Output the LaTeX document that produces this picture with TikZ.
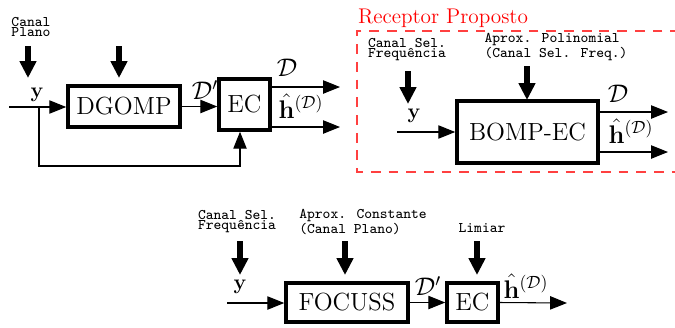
\documentclass[tikz,border=0pt]{standalone}
\usetikzlibrary{arrows.meta,calc}
\begin{document}
\begin{tikzpicture}[x=0.565pt,y=-0.565pt,
  blk/.style={draw,line width=2pt,inner sep=0pt,font=\fontsize{14}{17}\selectfont},
  sig/.style={line width=0.6pt,-{Triangle[length=9.5pt,width=7.5pt]}},
  param/.style={line width=3pt,-{Triangle[length=9.5pt,width=9pt]}},
  note/.style={font=\ttfamily\fontsize{8.3}{5.6}\selectfont,align=left,inner sep=0pt},
  lbl/.style={font=\large,inner sep=0pt},
  lblL/.style={font=\Large,inner sep=0pt}]
\useasboundingbox (0,0) rectangle (675,327);
% top left: DGOMP + EC
\node[note] (cp) at (31,27) {Canal\\Plano};
\node[blk,minimum width=63.3pt,minimum height=23.2pt] (dgomp) at (124,106.5) {DGOMP};
\node[blk,minimum width=28.8pt,minimum height=28.8pt] (ecA) at (244.5,104.5) {EC};
\coordinate (inA) at (9,107);
\coordinate (brA) at (39,107);
\coordinate (fbA) at (240,166);
\coordinate (pA1) at (28,46); \coordinate (qA1) at (28,78);
\coordinate (pA2) at (119,46); \coordinate (qA2) at (119,78);
\coordinate (oA1) at (340,87); \coordinate (oA2) at (340,127);
\draw[param] (pA1)--(qA1);
\draw[param] (pA2)--(qA2);
\draw[sig] (inA)--(inA-|dgomp.west);
\draw[sig] (dgomp.east)--(dgomp.east-|ecA.west);
\draw[sig] (brA) |- (fbA) -- (fbA|-ecA.south);
\draw[sig] (oA1-|ecA.east)--(oA1);
\draw[sig] (oA2-|ecA.east)--(oA2);
\node[lbl] (yA) at (37,95) {$\mathbf{y}$};
\node[lblL] (dpA) at (205,90) {$\mathcal{D}'$};
\node[lblL] (dA) at (287,68) {$\mathcal{D}$};
\node[lblL] (hA) at (301,106) {$\hat{\mathbf{h}}^{(\mathcal{D})}$};
% top right: proposed receiver
\node[font=\large,text=red,inner sep=0pt] (rp) at (443,18) {Receptor Proposto};
\draw[red!75,line width=0.8pt,dash pattern=on 5.5pt off 4.5pt] (680,31) -| (357,172) -- (680,172);
\node[blk,minimum width=79.7pt,minimum height=35pt] (bomp) at (527.5,132) {BOMP-EC};
\node[note] (csB) at (407,50) {Canal Sel.\\Frequência};
\node[note] (apB) at (556,47) {Aprox. Polinomial\\(Canal Sel. Freq.)};
\coordinate (inB) at (397,132);
\coordinate (pB1) at (408,71); \coordinate (qB1) at (408,104);
\coordinate (pB2) at (527,66); \coordinate (qB2) at (527,100);
\coordinate (oB1) at (668,112); \coordinate (oB2) at (668,152);
\draw[param] (pB1)--(qB1);
\draw[param] (pB2)--(qB2);
\draw[sig] (inB)--(inB-|bomp.west);
\draw[sig] (oB1-|bomp.east)--(oB1);
\draw[sig] (oB2-|bomp.east)--(oB2);
\node[lbl] (yB) at (414,116) {$\mathbf{y}$};
\node[lblL] (dB) at (618,94) {$\mathcal{D}$};
\node[lblL] (hB) at (631,131) {$\hat{\mathbf{h}}^{(\mathcal{D})}$};
% bottom: FOCUSS + EC
\node[blk,minimum width=68.9pt,minimum height=22pt] (focuss) at (347,302.5) {FOCUSS};
\node[blk,minimum width=28.8pt,minimum height=22pt] (ecC) at (472.5,302.5) {EC};
\node[note] (csC) at (237,222) {Canal Sel.\\Frequência};
\node[note] (apC) at (363,222) {Aprox. Constante\\(Canal Plano)};
\node[note] (lim) at (482,228) {Limiar};
\coordinate (inC) at (227,303);
\coordinate (oC) at (567,303);
\coordinate (pC1) at (240,241); \coordinate (qC1) at (240,275);
\coordinate (pC2) at (345,241); \coordinate (qC2) at (345,275);
\coordinate (pC3) at (477,241); \coordinate (qC3) at (477,275);
\draw[param] (pC1)--(qC1);
\draw[param] (pC2)--(qC2);
\draw[param] (pC3)--(qC3);
\draw[sig] (inC)--(inC-|focuss.west);
\draw[sig] (focuss.east)--(ecC.west);
\draw[sig] (ecC.east)--(oC);
\node[lbl] (yC) at (240,287) {$\mathbf{y}$};
\node[lblL] (dpC) at (428,286) {$\mathcal{D}'$};
\node[lblL] (hC) at (526,286) {$\hat{\mathbf{h}}^{(\mathcal{D})}$};
\end{tikzpicture}
\end{document}
